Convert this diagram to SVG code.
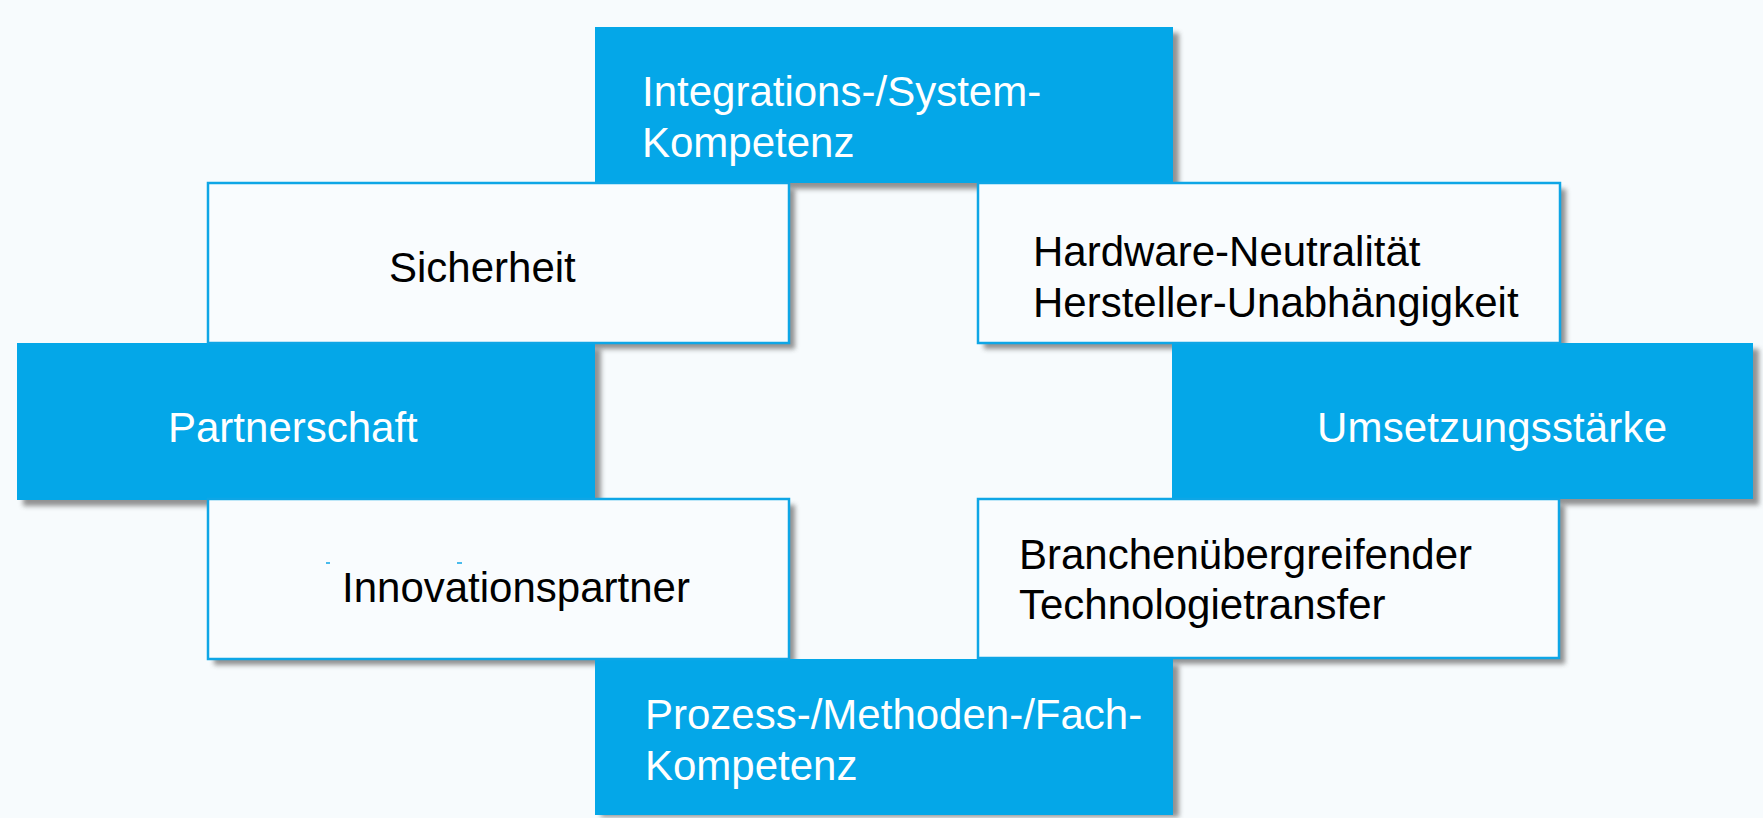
<svg xmlns="http://www.w3.org/2000/svg" width="1763" height="818" viewBox="0 0 1763 818">
<defs>
<filter id="sh" x="-5%" y="-10%" width="115%" height="130%">
<feGaussianBlur stdDeviation="2.5"/>
</filter>
<style>
.blue{fill:#04a7e8;}
.white{fill:#f9fcfe;stroke:#0ea6e6;stroke-width:2.5;}
.shadow{fill:#6e6e6e;opacity:0.75;filter:url(#sh);}
.t{font-family:"Liberation Sans",Arial,sans-serif;font-size:42px;}
.tw{fill:#ffffff;}
.tb{fill:#000000;}
</style>
</defs>
<rect x="0" y="0" width="1763" height="818" fill="#f7fbfd"/>
<g id="shadows">
<rect class="shadow" x="601" y="33" width="578" height="156"/>
<rect class="shadow" x="214" y="189" width="581" height="160"/>
<rect class="shadow" x="984" y="189" width="582" height="160"/>
<rect class="shadow" x="23" y="349" width="578" height="157"/>
<rect class="shadow" x="1178" y="349" width="581" height="156"/>
<rect class="shadow" x="214" y="505" width="581" height="160"/>
<rect class="shadow" x="984" y="505" width="581" height="159"/>
<rect class="shadow" x="601" y="665" width="578" height="152"/>
</g>
<g id="connectors"></g>
<g id="top">
<rect class="blue" x="595" y="27" width="578" height="156"/>
<text class="t tw" x="642" y="106">Integrations-/System-</text>
<text class="t tw" x="642" y="157">Kompetenz</text>
</g>
<g id="bottom">
<rect class="blue" x="595" y="659" width="578" height="156"/>
<text class="t tw" x="645" y="729">Prozess-/Methoden-/Fach-</text>
<text class="t tw" x="645" y="780">Kompetenz</text>
</g>
<g id="partnerschaft">
<rect class="blue" x="17" y="343" width="578" height="157"/>
<text class="t tw" x="168" y="442">Partnerschaft</text>
</g>
<g id="umsetzung">
<rect class="blue" x="1172" y="343" width="581" height="156"/>
<text class="t tw" x="1317" y="442" textLength="350">Umsetzungsstärke</text>
</g>
<g id="sicherheit">
<rect class="white" x="208" y="183" width="581" height="160"/>
<text class="t tb" x="389" y="282">Sicherheit</text>
</g>
<g id="hardware">
<rect class="white" x="978" y="183" width="582" height="160"/>
<text class="t tb" x="1033" y="266">Hardware-Neutralität</text>
<text class="t tb" x="1033" y="317">Hersteller-Unabhängigkeit</text>
</g>
<g id="innovation">
<rect class="white" x="208" y="499" width="581" height="160"/>
<line x1="326" y1="563" x2="330" y2="563" stroke="#0ea6e6" stroke-width="1.5"/>
<line x1="457" y1="563" x2="462" y2="563" stroke="#0ea6e6" stroke-width="1.5"/>
<text class="t tb" x="342" y="602">Innovationspartner</text>
</g>
<g id="branchen">
<rect class="white" x="978" y="499" width="581" height="159"/>
<text class="t tb" x="1019" y="569">Branchenübergreifender</text>
<text class="t tb" x="1019" y="619">Technologietransfer</text>
</g>
</svg>
